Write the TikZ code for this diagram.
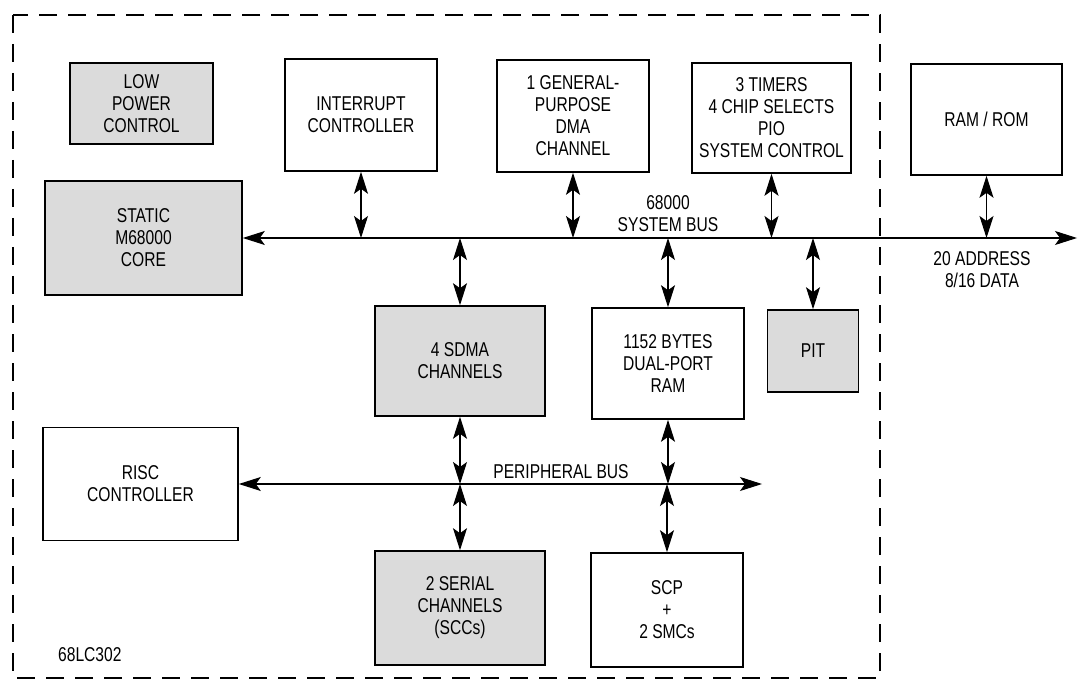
\documentclass[tikz,border=0pt]{standalone}
\usepackage{fontspec}
\setmainfont{Liberation Sans}[FakeStretch=0.78]
\usetikzlibrary{arrows.meta}
\tikzset{
  blk/.style={draw, line width=1.6pt, align=center, inner sep=0pt, font=\fontsize{20}{22}\selectfont},
  shaded/.style={blk, fill=black!14},
  lbl/.style={align=center, inner sep=0pt, font=\fontsize{20}{22}\selectfont},
  tip/.tip={Stealth[length=22pt,width=14pt,inset=5pt]},
  biarrow/.style={line width=1.1pt, tip-tip},
  busline/.style={line width=1.1pt, tip-tip}
}
\begin{document}
\begin{tikzpicture}[x=1pt,y=-1pt]
\useasboundingbox (0,0) rectangle (1078,684);
\draw[line width=1.8pt, dash pattern=on 18pt off 11pt] (13,15) rectangle (880,678);

\node[shaded, minimum width=143pt, minimum height=81pt] (lowpower) at (141.5,103.5) {LOW\\POWER\\CONTROL};
\node[blk, minimum width=152pt, minimum height=112pt] (intc) at (361,115) {INTERRUPT\\CONTROLLER};
\node[blk, minimum width=152pt, minimum height=112pt] (dma) at (573,116) {1 GENERAL-\\PURPOSE\\DMA\\CHANNEL};
\node[blk, minimum width=159pt, minimum height=110pt] (timers) at (771.5,118) {3 TIMERS\\4 CHIP SELECTS\\PIO\\SYSTEM CONTROL};
\node[blk, minimum width=151pt, minimum height=111pt] (ramrom) at (986.5,119.5) {RAM / ROM};
\node[shaded, minimum width=197pt, minimum height=114pt] (core) at (143.5,238) {STATIC\\M68000\\CORE};
\node[shaded, minimum width=170pt, minimum height=110pt] (sdma) at (460,361) {4 SDMA\\CHANNELS};
\node[blk, minimum width=152pt, minimum height=111pt] (dpram) at (668,363.5) {1152 BYTES\\DUAL-PORT\\RAM};
\node[shaded, minimum width=91pt, minimum height=82pt] (pit) at (813,351) {PIT};
\node[blk, minimum width=195pt, minimum height=113pt] (risc) at (140.5,484) {RISC\\CONTROLLER};
\node[shaded, minimum width=170pt, minimum height=114pt] (scc) at (460,608) {2 SERIAL\\CHANNELS\\(SCCs)};
\node[blk, minimum width=152pt, minimum height=114pt] (scp) at (667,610) {SCP\\+\\2 SMCs};

% buses
\coordinate (sysend) at (1077,238);
\coordinate (perend) at (762,484);
\draw[busline] (core.east) -- (sysend);
\draw[busline] (risc.east) -- (perend);

\foreach \n in {intc,dma,timers,ramrom}{
  \draw[biarrow] (\n.south) -- (\n.south |- sysend);
}
\foreach \n in {sdma,dpram,pit}{
  \draw[biarrow] (\n.north |- sysend) -- (\n.north);
}
\foreach \n in {sdma,dpram}{
  \draw[biarrow] (\n.south) -- (\n.south |- perend);
}
\foreach \n in {scc,scp}{
  \draw[biarrow] (\n.north |- perend) -- (\n.north);
}

\node[lbl] (sysbus) at (668,214) {68000\\SYSTEM BUS};
\node[lbl] (addr) at (982,270) {20 ADDRESS\\8/16 DATA};
\node[lbl] (perbus) at (561,472) {PERIPHERAL BUS};
\node[lbl, anchor=west] (chip) at (58,655) {68LC302};
\end{tikzpicture}
\end{document}
